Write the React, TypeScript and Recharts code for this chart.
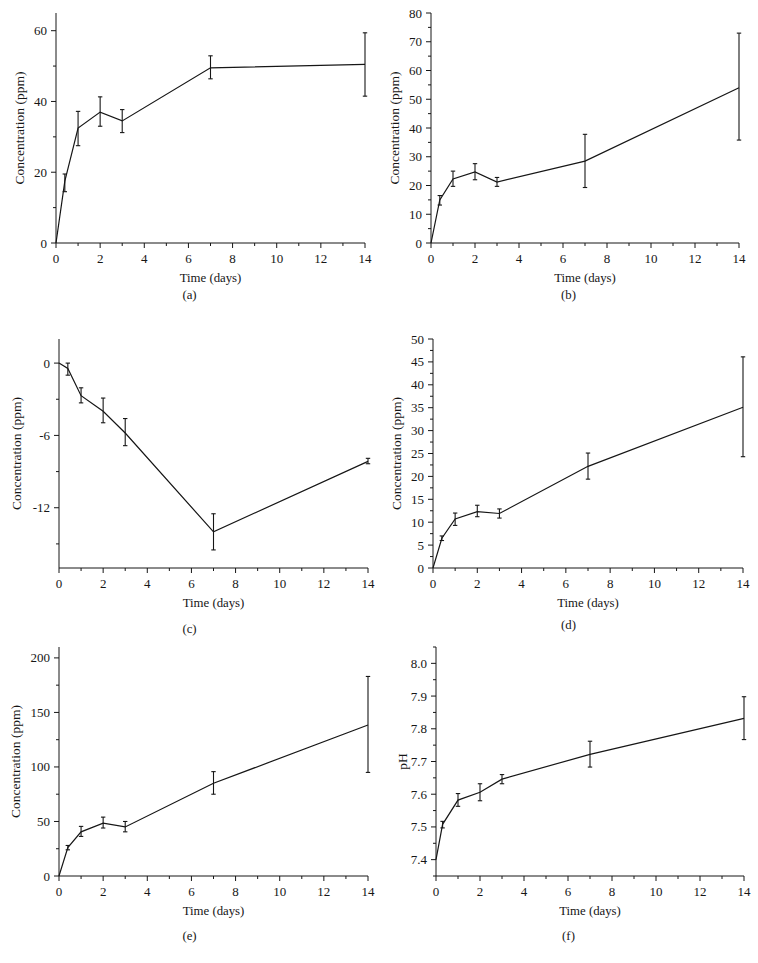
import { LineChart, Line, XAxis, YAxis, ErrorBar } from "recharts";

// time points (days)
const days = [0, 0.4, 1, 2, 3, 7, 14];
const daysPH = [0, 0.3, 1, 2, 3, 7, 14];
const dayTicks = [0, 2, 4, 6, 8, 10, 12, 14];
const dayMinor = [1, 3, 5, 7, 9, 11, 13];

// (a)
const meanA = [0, 17.5, 32.5, 37, 34.5, 49.5, 50.5];
const lowA = [0, 14.5, 27.5, 33, 31.2, 46.4, 41.5];
const highA = [0, 19.5, 37.2, 41.3, 37.7, 52.9, 59.4];
// (b)
const meanB = [0, 15, 22.3, 24.7, 21.2, 28.5, 54];
const lowB = [0, 13.2, 19.7, 22, 19.7, 19.3, 35.8];
const highB = [0, 16.5, 25, 27.6, 22.8, 37.8, 73];
// (c)
const meanC = [0, -0.45, -2.7, -4.0, -5.8, -14.0, -8.15];
const lowC = [0, -1.0, -3.3, -4.95, -6.85, -15.5, -8.35];
const highC = [0, 0, -2.05, -2.9, -4.6, -12.5, -7.9];
// (d)
const meanD = [0, 6.5, 10.7, 12.3, 11.9, 22.2, 35.1];
const lowD = [0, 6, 9.3, 11.2, 10.9, 19.4, 24.3];
const highD = [0, 7, 12, 13.7, 12.9, 25.1, 46.1];
// (e)
const meanE = [0, 26, 40.5, 48.5, 45, 85, 138.5];
const lowE = [0, 24, 36.3, 44, 40.5, 75, 95];
const highE = [0, 28, 45.5, 54, 50, 95.7, 183];
// (f)
const meanF = [7.4, 7.508, 7.582, 7.606, 7.646, 7.722, 7.832];
const lowF = [7.4, 7.497, 7.563, 7.58, 7.632, 7.683, 7.767];
const highF = [7.4, 7.517, 7.602, 7.632, 7.66, 7.762, 7.898];

// y ticks
const yMajorA = [0, 20, 40, 60];
const yMinorA = [10, 30, 50];
const yMajorB = [0, 10, 20, 30, 40, 50, 60, 70, 80];
const yMinorB = [5, 15, 25, 35, 45, 55, 65, 75];
const yMajorC = [-12, -6, 0];
const yMinorC = [-15, -9, -3];
const yMajorD = [0, 5, 10, 15, 20, 25, 30, 35, 40, 45, 50];
const yMinorD = [2.5, 7.5, 12.5, 17.5, 22.5, 27.5, 32.5, 37.5, 42.5, 47.5];
const yMajorE = [0, 50, 100, 150, 200];
const yMinorE = [25, 75, 125, 175];
const yMajorF = [7.4, 7.5, 7.6, 7.7, 7.8, 7.9, 8.0];
const yMinorF = [7.35, 7.45, 7.55, 7.65, 7.75, 7.85, 7.95, 8.05];

const panels = [
  { id: "a", yLabel: "Concentration (ppm)", t: days, mean: meanA, low: lowA, high: highA, domain: [0, 65], major: yMajorA, minor: yMinorA, dec: 0 },
  { id: "b", yLabel: "Concentration (ppm)", t: days, mean: meanB, low: lowB, high: highB, domain: [0, 80], major: yMajorB, minor: yMinorB, dec: 0 },
  { id: "c", yLabel: "Concentration (ppm)", t: days, mean: meanC, low: lowC, high: highC, domain: [-17, 2], major: yMajorC, minor: yMinorC, dec: 0 },
  { id: "d", yLabel: "Concentration (ppm)", t: days, mean: meanD, low: lowD, high: highD, domain: [0, 50], major: yMajorD, minor: yMinorD, dec: 0 },
  { id: "e", yLabel: "Concentration (ppm)", t: days, mean: meanE, low: lowE, high: highE, domain: [0, 210], major: yMajorE, minor: yMinorE, dec: 0 },
  { id: "f", yLabel: "pH", t: daysPH, mean: meanF, low: lowF, high: highF, domain: [7.35, 8.05], major: yMajorF, minor: yMinorF, dec: 1 },
];

// per panel layout: chart origin, y-axis width, margins, y-label x, caption centre
const layout = [
  { x: 0, y: 0, yw: 56, right: 14, top: 13, bottom: 78, labelX: 19, cap: 294.7 },
  { x: 379, y: 0, yw: 52, right: 19, top: 13, bottom: 78, labelX: 15, cap: 294.7 },
  { x: 0, y: 321, yw: 59, right: 11, top: 18, bottom: 74, labelX: 16, cap: 308.3 },
  { x: 379, y: 321, yw: 54, right: 15, top: 18, bottom: 74, labelX: 17, cap: 304.3 },
  { x: 0, y: 642, yw: 59, right: 11, top: 5, bottom: 87, labelX: 15, cap: 294 },
  { x: 379, y: 642, yw: 57, right: 14, top: 5, bottom: 87, labelX: 23, cap: 294 },
];

const INK = "#161616";
const FONT = 13;

function xTick(props: any) {
  const { x, y, payload } = props;
  const major = dayTicks.includes(payload.value);
  return (
    <g>
      <line x1={x} y1={y} x2={x} y2={y + (major ? 5 : 3)} stroke={INK} strokeWidth={1} />
      {major && (
        <text x={x} y={y + 19.5} textAnchor="middle" fontSize={FONT} fill={INK}>
          {payload.value}
        </text>
      )}
    </g>
  );
}

function makeYTick(majorList: number[], dec: number) {
  return (props: any) => {
    const { x, y, payload } = props;
    const major = majorList.includes(payload.value);
    return (
      <g>
        <line x1={x} y1={y} x2={x - (major ? 5 : 3)} y2={y} stroke={INK} strokeWidth={1} />
        {major && (
          <text x={x - 9} y={y + 4.5} textAnchor="end" fontSize={FONT} fill={INK}>
            {payload.value.toFixed(dec)}
          </text>
        )}
      </g>
    );
  };
}

function Panel({ idx }: { idx: number }) {
  const p = panels[idx];
  const l = layout[idx];
  const data = p.t.map((t, i) => ({
    t,
    v: p.mean[i],
    err: i === 0 ? null : [p.mean[i] - p.low[i], p.high[i] - p.mean[i]],
  }));
  return (
    <div style={{ position: "absolute", left: l.x, top: l.y, width: 379, height: 321 }}>
      <LineChart
        width={379}
        height={321}
        data={data}
        margin={{ top: l.top, right: l.right, bottom: l.bottom - 45, left: 0 }}
      >
        <XAxis
          type="number"
          dataKey="t"
          domain={[0, 14]}
          ticks={[...dayTicks, ...dayMinor]}
          interval={0}
          tickSize={0}
          tickMargin={0}
          tickLine={false}
          tick={xTick}
          stroke={INK}
          height={45}
          label={{ value: "Time (days)", position: "insideBottom", offset: 6, fill: INK, fontSize: 12.8 }}
        />
        <YAxis
          type="number"
          domain={p.domain}
          ticks={[...p.major, ...p.minor]}
          interval={0}
          allowDataOverflow
          tickSize={0}
          tickMargin={0}
          tickLine={false}
          tick={makeYTick(p.major, p.dec)}
          stroke={INK}
          width={l.yw}
          label={{
            value: p.yLabel,
            angle: -90,
            position: "insideLeft",
            offset: l.labelX,
            fill: INK,
            fontSize: 13.5,
            style: { textAnchor: "middle" },
          }}
        />
        <Line
          type="linear"
          dataKey="v"
          stroke={INK}
          strokeWidth={1.2}
          dot={false}
          activeDot={false}
          isAnimationActive={false}
        >
          <ErrorBar dataKey="err" direction="y" width={2.2} stroke={INK} strokeWidth={1.1} isAnimationActive={false} />
        </Line>
      </LineChart>
      <div
        style={{
          position: "absolute",
          left: 0,
          width: 379,
          top: l.cap - 8,
          lineHeight: "16px",
          textAlign: "center",
          fontSize: 12.8,
          color: INK,
        }}
      >
        ({p.id})
      </div>
    </div>
  );
}

export default function App() {
  return (
    <div
      style={{
        position: "absolute",
        left: 0,
        top: 0,
        width: 758,
        height: 963,
        background: "#fff",
        fontFamily: "'Liberation Serif', 'Times New Roman', serif",
      }}
    >
      {panels.map((_, i) => (
        <Panel key={i} idx={i} />
      ))}
    </div>
  );
}
